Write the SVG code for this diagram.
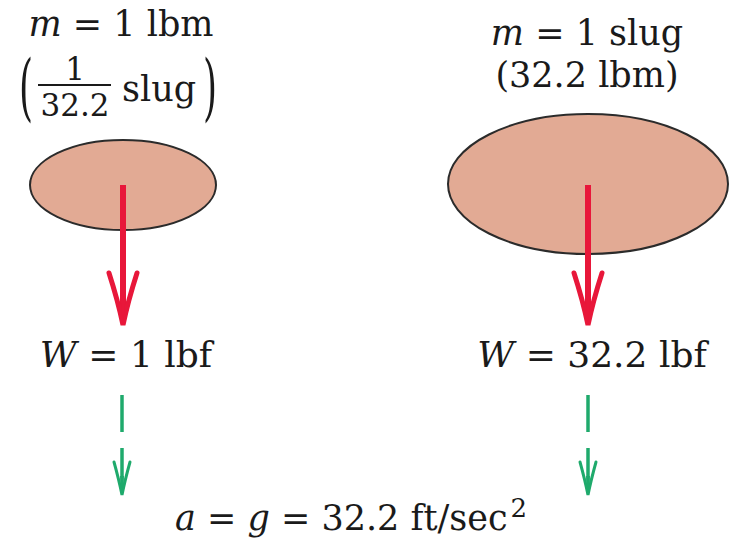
<svg xmlns="http://www.w3.org/2000/svg" width="732" height="548" viewBox="0 0 732 548">
  <style>
    .t { font-family: "DejaVu Serif", "Liberation Serif", serif; fill: #1a1a1a; }
    .it { font-style: italic; }
    .mass { fill: #e2aa94; stroke: #2b2b2b; stroke-width: 2; }
    .force { stroke: #e8173a; stroke-width: 6; fill: none; }
    .acc { stroke: #1faa6c; stroke-width: 3.5; fill: none; }
  </style>
  <defs>
    <marker id="redHead" markerUnits="userSpaceOnUse" viewBox="-4 -20 62 40" markerWidth="62" markerHeight="40" refX="44" refY="0" orient="auto">
      <path d="M0,-14 Q28,-5 52,0 Q28,5 0,14" fill="none" stroke="#e8173a" stroke-width="5" stroke-linecap="round" stroke-linejoin="miter"/>
      <path d="M20,-3 L52,0 L20,3 Z" fill="#e8173a"/>
    </marker>
    <marker id="greenHead" markerUnits="userSpaceOnUse" viewBox="-4 -14 44 28" markerWidth="44" markerHeight="28" refX="28" refY="0" orient="auto">
      <path d="M0,-8 Q18,-3 33,0 Q18,3 0,8" fill="none" stroke="#1faa6c" stroke-width="3" stroke-linecap="round"/>
      <path d="M14,-2 L33,0 L14,2 Z" fill="#1faa6c"/>
    </marker>
  </defs>
  <rect width="732" height="548" fill="#ffffff"/>

  <g id="mass-left">
    <ellipse class="mass" cx="123" cy="185" rx="93" ry="45"/>
    <text class="t" x="121" y="36" font-size="35" text-anchor="middle"><tspan class="it">m</tspan> = 1 lbm</text>
    <text class="t" transform="translate(19,112) scale(1,2.05)" font-size="36">(</text>
    <text class="t" x="75" y="80" font-size="31" text-anchor="middle">1</text>
    <line x1="38" y1="85" x2="111" y2="85" stroke="#1a1a1a" stroke-width="2"/>
    <text class="t" x="75" y="116" font-size="31" text-anchor="middle">32.2</text>
    <text class="t" x="122" y="101" font-size="35">slug</text>
    <text class="t" transform="translate(203,112) scale(1,2.05)" font-size="36">)</text>
  </g>

  <g id="mass-right">
    <ellipse class="mass" cx="588" cy="184" rx="140" ry="70"/>
    <text class="t" x="587" y="45" font-size="35" text-anchor="middle"><tspan class="it">m</tspan> = 1 slug</text>
    <text class="t" x="587" y="87" font-size="35" text-anchor="middle">(32.2 lbm)</text>
  </g>

  <g id="weight-left">
    <text class="t" x="126" y="367" font-size="36" text-anchor="middle"><tspan class="it">W</tspan> = 1 lbf</text>
  </g>

  <g id="weight-right">
    <text class="t" x="592" y="367" font-size="36" text-anchor="middle"><tspan class="it">W</tspan> = 32.2 lbf</text>
  </g>

  <g id="acceleration">
    <text class="t" x="175" y="530" font-size="35"><tspan class="it">a</tspan> = <tspan class="it">g</tspan> = 32.2 ft/sec<tspan font-size="26" dx="3" dy="-13">2</tspan></text>
  </g>

  <g id="connectors">
    <line class="force" x1="123" y1="185" x2="123" y2="317" marker-end="url(#redHead)"/>
    <line class="force" x1="588" y1="185" x2="588" y2="317" marker-end="url(#redHead)"/>
    <line class="acc" x1="122" y1="395" x2="122" y2="432"/>
    <line class="acc" x1="122" y1="448" x2="122" y2="490" marker-end="url(#greenHead)"/>
    <line class="acc" x1="588" y1="395" x2="588" y2="432"/>
    <line class="acc" x1="588" y1="448" x2="588" y2="490" marker-end="url(#greenHead)"/>
  </g>
</svg>
